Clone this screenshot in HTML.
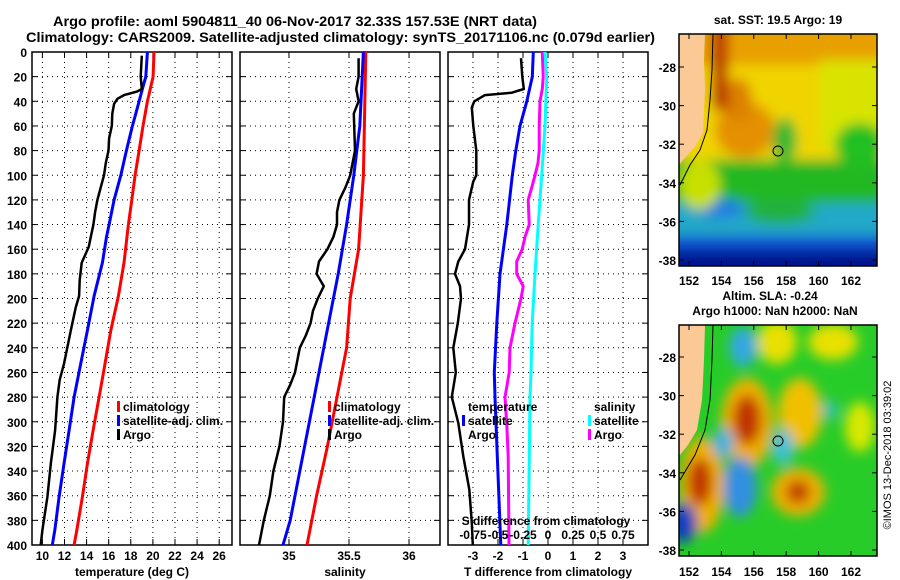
<!DOCTYPE html>
<html><head><meta charset="utf-8"><style>
html,body{margin:0;padding:0;background:#fff;}
svg{display:block;font-family:"Liberation Sans",Arial,sans-serif;font-weight:bold;}
</style></head><body>
<svg id="svg" width="900" height="580" viewBox="0 0 900 580" xmlns="http://www.w3.org/2000/svg">
<defs>
<filter id="blur6" filterUnits="userSpaceOnUse" x="600" y="0" width="300" height="580"><feGaussianBlur stdDeviation="6"/></filter>
<clipPath id="clipTop"><rect x="679" y="34" width="198" height="232"/></clipPath>
<clipPath id="clipBot"><rect x="679" y="325" width="198" height="231"/></clipPath>
</defs>
<text x="53" y="26" font-size="14" textLength="484" lengthAdjust="spacingAndGlyphs">Argo profile: aoml 5904811_40 06-Nov-2017 32.33S 157.53E (NRT data)</text>
<text x="26" y="42" font-size="14" textLength="629" lengthAdjust="spacingAndGlyphs">Climatology: CARS2009. Satellite-adjusted climatology: synTS_20171106.nc (0.079d earlier)</text>

<g id="p1"></g>
<g id="p2"></g>
<g id="p3"></g>

<!-- SST map -->
<g>
<text x="778" y="24" font-size="12" text-anchor="middle">sat. SST: 19.5 Argo: 19</text>
<g clip-path="url(#clipTop)">
<g filter="url(#blur6)">
<rect x="650" y="0" width="260" height="300" fill="#f0d400"/>
<rect x="650" y="0" width="260" height="65" fill="#e8a000"/>
<rect x="820" y="60" width="90" height="90" fill="#d8e400"/>
<ellipse cx="745" cy="130" rx="30" ry="28" fill="#e49000"/>
<ellipse cx="738" cy="100" rx="14" ry="22" fill="#dc8000"/>
<rect x="712" y="20" width="16" height="90" fill="#b83000"/>
<rect x="650" y="160" width="260" height="45" fill="#22b822"/>
<ellipse cx="860" cy="145" rx="25" ry="22" fill="#22c022"/>
<ellipse cx="785" cy="140" rx="12" ry="22" fill="#30b830"/>
<rect x="650" y="203" width="260" height="35" fill="#20a8c8"/>
<ellipse cx="780" cy="212" rx="35" ry="12" fill="#22b040"/>
<ellipse cx="720" cy="208" rx="25" ry="10" fill="#2080e0"/>
<rect x="650" y="236" width="260" height="14" fill="#1050d0"/>
<rect x="650" y="250" width="260" height="40" fill="#001890"/>
<ellipse cx="700" cy="185" rx="20" ry="25" fill="#c8e000"/>
</g>
<polygon points="679,34 705,34 704,60 705,90 703,133 695,147 683,160 679,165" fill="#fbc996"/>
<polyline points="713,34 712,70 710,100 707,130 700,150 690,165 680,185" fill="none" stroke="#000" stroke-width="1"/>
</g>
<rect x="679" y="34" width="198" height="232" fill="none" stroke="#000" stroke-width="1.5"/>
<circle cx="778" cy="151" r="5" fill="none" stroke="#000" stroke-width="1"/>
<g id="mapTopAxes"></g>
</g>

<!-- SLA map -->
<g>
<text x="770" y="300" font-size="12" text-anchor="middle">Altim. SLA: -0.24</text>
<text x="775" y="315" font-size="12" text-anchor="middle">Argo h1000: NaN h2000: NaN</text>
<g clip-path="url(#clipBot)">
<rect x="679" y="325" width="198" height="231" fill="#28cc28"/>
<g filter="url(#blur6)">
<ellipse cx="777" cy="342" rx="20" ry="22" fill="#e8e000"/>
<ellipse cx="833" cy="342" rx="25" ry="18" fill="#e8e000"/>
<ellipse cx="800" cy="413" rx="22" ry="35" fill="#f0c000"/>
<ellipse cx="860" cy="427" rx="15" ry="25" fill="#d8e800"/>
<ellipse cx="747" cy="423" rx="26" ry="45" fill="#f0b000"/>
<ellipse cx="747" cy="420" rx="14" ry="25" fill="#c03000"/>
<ellipse cx="702" cy="485" rx="22" ry="48" fill="#f0b000"/>
<ellipse cx="700" cy="482" rx="12" ry="24" fill="#c03000"/>
<ellipse cx="798" cy="492" rx="27" ry="24" fill="#f0b000"/>
<ellipse cx="798" cy="492" rx="12" ry="12" fill="#c04000"/>
<ellipse cx="743" cy="347" rx="14" ry="20" fill="#30a8e0"/>
<ellipse cx="740" cy="487" rx="17" ry="30" fill="#3090e0"/>
<ellipse cx="723" cy="443" rx="10" ry="15" fill="#30b0e0"/>
<ellipse cx="783" cy="447" rx="10" ry="18" fill="#40c0e0"/>
<ellipse cx="683" cy="523" rx="14" ry="20" fill="#1040c0"/>
<ellipse cx="830" cy="410" rx="8" ry="10" fill="#30c0b0"/>
</g>
<polygon points="679,325 705,325 704,360 702,400 697,430 688,445 680,455 679,455" fill="#fbc996"/>
<polyline points="713,325 712,360 710,400 705,430 695,455 680,480" fill="none" stroke="#000" stroke-width="1"/>
</g>
<rect x="679" y="325" width="198" height="231" fill="none" stroke="#000" stroke-width="1.5"/>
<circle cx="778" cy="441" r="5" fill="none" stroke="#000" stroke-width="1"/>
<g id="mapBotAxes"></g>
</g>
<text transform="translate(891,455) rotate(-90)" font-size="11" font-weight="normal" text-anchor="middle">©IMOS 13-Dec-2018 03:39:02</text>
</svg>
<script>
// ---- data ----
const depthTicks = [0,20,40,60,80,100,120,140,160,180,200,220,240,260,280,300,320,340,360,380,400];
const tempTicks = [10,12,14,16,18,20,22,24,26];
const salTicks = [35,35.5,36];
const tdiffTicks = [-3,-2,-1,0,1,2,3];
const sdiffTickLabels = ["-0.75","-0.5","-0.25","0","0.25","0.5","0.75"];
const sdiffTicks = [-0.75,-0.5,-0.25,0,0.25,0.5,0.75];

const tClimDepth = [0,20,40,60,80,100,120,140,171,198,226,253,280,307,334,361,388,400];
const tClimVal   = [20.1,20.02,19.5,19.11,18.75,18.39,18.09,17.78,17.39,16.88,16.19,15.67,15.13,14.59,14.07,13.62,13.11,12.87];
const tSatDepth = [0,20,30,40,50,60,80,100,120,140,150,171,198,226,253,280,307,334,361,388,400];
const tSatVal   = [19.5,19.36,19.05,18.75,18.45,18.15,17.6,17.1,16.49,16.04,15.8,15.43,14.68,14.07,13.47,12.87,12.42,11.96,11.51,11.12,10.9];
const tArgoDepth = [3,20,30,32,35,38,42,50,60,70,80,90,100,110,120,130,140,150,158,171,185,198,207,226,253,266,280,307,334,361,388,400];
const tArgoVal   = [19.0,18.9,19.0,18.6,17.39,16.79,16.49,16.33,16.28,16.04,15.98,15.74,15.58,15.28,14.98,14.77,14.62,14.38,14.2,13.56,13.38,13.32,13.02,12.57,11.96,11.57,11.36,11.15,10.76,10.45,10.0,9.85];

const sClimDepth = [0,100,160,200,240,280,320,360,400];
const sClimVal   = [35.64,35.62,35.58,35.51,35.48,35.40,35.32,35.23,35.15];
const sSatDepth = [0,60,100,140,180,220,260,300,340,380,400];
const sSatVal   = [35.62,35.59,35.54,35.48,35.41,35.33,35.25,35.17,35.09,35.01,34.95];
const sArgoDepth = [5,20,30,40,50,80,100,110,120,130,140,150,160,170,180,190,200,210,220,230,240,250,260,270,280,300,320,340,360,380,400];
const sArgoVal   = [35.58,35.58,35.56,35.58,35.54,35.55,35.51,35.47,35.42,35.40,35.40,35.37,35.32,35.25,35.23,35.29,35.24,35.20,35.18,35.14,35.09,35.07,35.05,35.01,34.96,34.95,34.92,34.87,34.84,34.79,34.75];

const dtArgoDepth = [5,20,30,33,35,40,45,60,80,100,105,120,140,160,170,180,190,200,220,240,260,280,301,328,355,382,400];
const dtArgoVal   = [-1.08,-1.03,-0.97,-1.45,-2.52,-2.95,-3.05,-2.99,-2.87,-2.87,-2.99,-3.16,-3.16,-3.32,-3.59,-3.72,-3.52,-3.48,-3.61,-3.79,-3.69,-3.85,-3.59,-3.39,-3.15,-3.05,-3.01];
const dtSatDepth = [0,20,40,60,80,100,140,180,220,260,280,328,400];
const dtSatVal   = [-0.59,-0.63,-0.85,-1.12,-1.29,-1.43,-1.65,-1.92,-2.05,-2.15,-2.12,-2.03,-1.89];
const dsArgoDepth = [0,20,30,40,60,80,90,100,110,120,140,150,160,170,180,190,200,220,240,260,280,301,328,400];
const dsArgoVal   = [-0.057,-0.048,-0.057,-0.08,-0.088,-0.088,-0.1,-0.13,-0.163,-0.198,-0.188,-0.23,-0.258,-0.313,-0.313,-0.248,-0.27,-0.33,-0.38,-0.388,-0.43,-0.413,-0.398,-0.39];
const dsSatDepth = [0,20,60,100,140,180,220,260,280,400];
const dsSatVal   = [-0.03,-0.013,-0.03,-0.063,-0.098,-0.13,-0.158,-0.17,-0.18,-0.198];

const latTicks = [-28,-30,-32,-34,-36,-38];
const lonTicks = [152,154,156,158,160,162];

// ---- helpers ----
const NS = "http://www.w3.org/2000/svg";
function mk(tag, attrs, parent){const e=document.createElementNS(NS,tag);for(const k in attrs)e.setAttribute(k,attrs[k]);parent.appendChild(e);return e;}
const yTop=52, yBot=545;
function yD(d){return yTop + d*(yBot-yTop)/400;}

function panel(g, x0, x1, xmin, xmax, ticks, tickLabels, showY, gridTicks){
  const xs = v => x0 + (v-xmin)*(x1-x0)/(xmax-xmin);
  const bg = mk('rect',{x:x0,y:yTop,width:x1-x0,height:yBot-yTop,fill:'#fff',stroke:'#000','stroke-width':1.5},g);
  
  
  depthTicks.forEach(d=>{
    const y=yD(d);
    if(d>0&&d<400){const l=mk('line',{x1:x0,x2:x1,y1:y,y2:y,stroke:'#000','stroke-width':1,'stroke-dasharray':'1,4'},g);
      
      }
    mk('line',{x1:x0,x2:x0+6,y1:y,y2:y,stroke:'#000','stroke-width':1},g);
    mk('line',{x1:x1-6,x2:x1,y1:y,y2:y,stroke:'#000','stroke-width':1},g);
    if(showY){const t=mk('text',{x:x0-5,y:y+5,'font-size':12,'text-anchor':'end'},g);t.textContent=d;
      
      }
  });
  gridTicks.forEach(v=>{
    const x=xs(v);
    const l=mk('line',{x1:x,x2:x,y1:yTop,y2:yBot,stroke:'#000','stroke-width':1,'stroke-dasharray':'1,4'},g);
    
    
  });
  ticks.forEach((v,i)=>{
    const x=xs(v);
    mk('line',{x1:x,x2:x,y1:yBot,y2:yBot-6,stroke:'#000','stroke-width':1},g);
    mk('line',{x1:x,x2:x,y1:yTop,y2:yTop+6,stroke:'#000','stroke-width':1},g);
    const t=mk('text',{x:x,y:560,'font-size':12,'text-anchor':'middle'},g);t.textContent=tickLabels[i];
    
    
  });
  return xs;
}
function line(g, xs, depths, vals, color, w, name){
  const pts = depths.map((d,i)=>xs(vals[i]).toFixed(1)+','+yD(d).toFixed(1)).join(' ');
  const p=mk('polyline',{points:pts,fill:'none',stroke:color,'stroke-width':w,'stroke-linejoin':'round'},g);
  
  
}
function legend(g, x, y, color, label, name){
  if(color){const r=mk('rect',{x:x,y:y-10,width:3,height:11,fill:color},g);}
  const t=mk('text',{x:x+6,y:y,'font-size':12},g);t.textContent=label;
  
  
}
function label(g,x,y,txt,name,anchor){const t=mk('text',{x:x,y:y,'font-size':12,'text-anchor':anchor||'middle'},g);t.textContent=txt;
  
  }

// Panel 1
const g1=document.getElementById('p1');
const xs1=panel(g1,32,232,9.06,27.16,tempTicks,tempTicks.map(String),true,tempTicks);
line(g1,xs1,tClimDepth,tClimVal,'#ff0000',3,'temperature-climatology-line');
line(g1,xs1,tSatDepth,tSatVal,'#0000ff',3,'temperature-satellite-line');
line(g1,xs1,tArgoDepth,tArgoVal,'#000',2.5,'temperature-argo-line');
legend(g1,117,411,'#ff0000','climatology','legend-climatology');
legend(g1,117,425,'#0000ff','satellite-adj. clim.','legend-satellite');
legend(g1,117,439,'#000','Argo','legend-argo');
label(g1,132,576,'temperature (deg C)','x-axis-title-temperature');

// Panel 2
const g2=document.getElementById('p2');
const xs2=panel(g2,240,440,34.592,36.258,salTicks,salTicks.map(String),false,salTicks);
line(g2,xs2,sClimDepth,sClimVal,'#ff0000',3,'salinity-climatology-line');
line(g2,xs2,sSatDepth,sSatVal,'#0000ff',3,'salinity-satellite-line');
line(g2,xs2,sArgoDepth,sArgoVal,'#000',2.5,'salinity-argo-line');
legend(g2,328,411,'#ff0000','climatology','legend-climatology');
legend(g2,328,425,'#0000ff','satellite-adj. clim.','legend-satellite');
legend(g2,328,439,'#000','Argo','legend-argo');
label(g2,345,576,'salinity','x-axis-title-salinity');

// Panel 3
const g3=document.getElementById('p3');
const xs3=panel(g3,448,648,-4,4,tdiffTicks,tdiffTicks.map(String),false,tdiffTicks);
const xsS = v => xs3(v*4);
line(g3,xs3,dtArgoDepth,dtArgoVal,'#000',2.5,'tdiff-argo-line');
line(g3,xs3,dtSatDepth,dtSatVal,'#0000ff',3,'tdiff-satellite-line');
line(g3,xsS,dsArgoDepth,dsArgoVal,'#ff00ff',3,'sdiff-argo-line');
line(g3,xsS,dsSatDepth,dsSatVal,'#00ffff',3,'sdiff-satellite-line');
legend(g3,462,411,null,'temperature','legend-temperature-header');
legend(g3,462,425,'#0000ff','satellite','legend-t-satellite');
legend(g3,462,439,null,'Argo','legend-t-argo');
legend(g3,588,411,null,'salinity','legend-salinity-header');
legend(g3,588,425,'#00ffff','satellite','legend-s-satellite');
legend(g3,588,439,'#ff00ff','Argo','legend-s-argo');
label(g3,546,525,'S difference from climatology','s-axis-title');
sdiffTicks.forEach((v,i)=>label(g3,xsS(v),539,sdiffTickLabels[i],'s-tick-label'));
label(g3,548,576,'T difference from climatology','x-axis-title-tdiff');

// map axes
function mapAxes(id, yT, yB, latY0, lonLabY){
  const g=document.getElementById(id);
  const ly = lat => latY0 + (-28-lat)*19.3;
  const lx = lon => 689 + (lon-152)*16.2;
  latTicks.forEach(l=>{
    const y=ly(l);
    mk('line',{x1:679,x2:684,y1:y,y2:y,stroke:'#000'},g);
    mk('line',{x1:872,x2:877,y1:y,y2:y,stroke:'#000'},g);
    label(g,676,y+5,String(l),'latitude-tick-label','end');
  });
  lonTicks.forEach(l=>{
    const x=lx(l);
    mk('line',{x1:x,x2:x,y1:yT,y2:yT+5,stroke:'#000'},g);
    mk('line',{x1:x,x2:x,y1:yB,y2:yB-5,stroke:'#000'},g);
    label(g,x,lonLabY,String(l),'longitude-tick-label');
  });
}
mapAxes('mapTopAxes',34,266,67,285);
mapAxes('mapBotAxes',325,556,357,576);
</script>
</body></html>
